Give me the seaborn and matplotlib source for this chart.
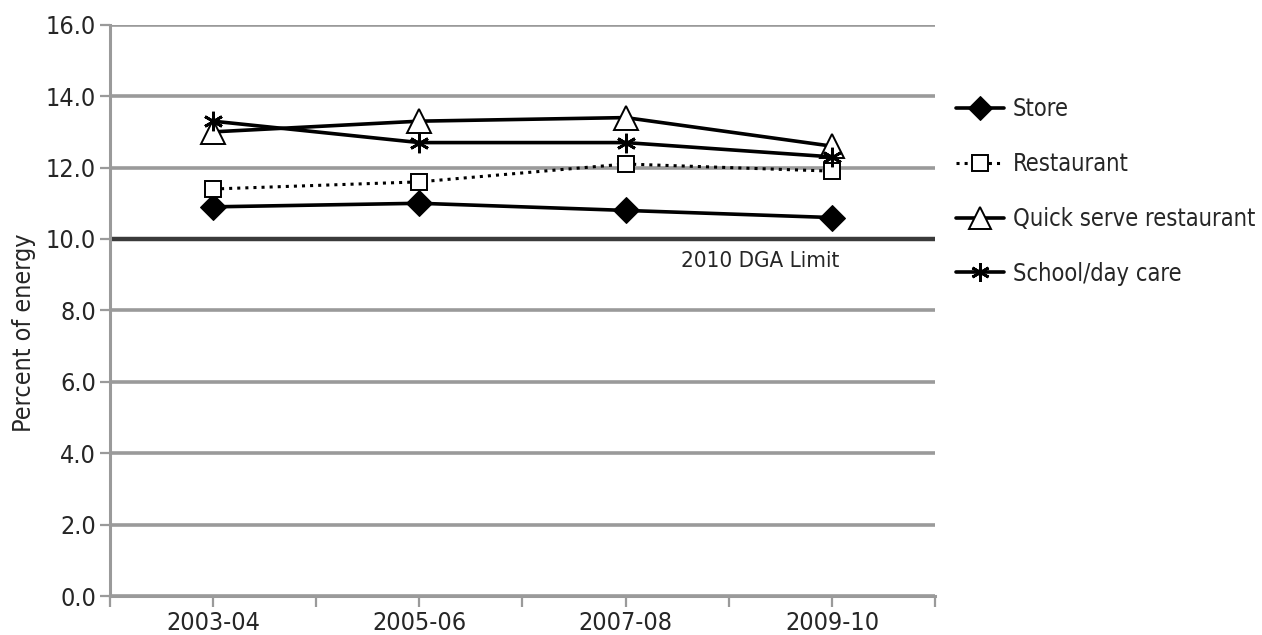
import matplotlib
matplotlib.use("Agg")
import matplotlib.pyplot as plt
import pandas as pd
import seaborn as sns

periods = ["2003-04", "2005-06", "2007-08", "2009-10"]
store = [10.9, 11.0, 10.8, 10.6]
restaurant = [11.4, 11.6, 12.1, 11.9]
quick_serve = [13.0, 13.3, 13.4, 12.6]
school = [13.3, 12.7, 12.7, 12.3]
y_ticks = [0, 2, 4, 6, 8, 10, 12, 14, 16]

sns.set_theme(style="white")
plt.rcParams["font.family"] = ["DejaVu Sans"]
plt.rcParams["font.stretch"] = "condensed"

df = pd.DataFrame({"period": periods, "Store": store, "Restaurant": restaurant,
                   "Quick serve restaurant": quick_serve, "School/day care": school})

fig = plt.figure(figsize=(12.62, 6.35), dpi=100)
ax = fig.add_axes([0.087, 0.0614, 0.654, 0.8996])

grid_col = "#9a9a9a"
for t in y_ticks:
    ax.axhline(t, color=grid_col, lw=2.6, zorder=0)
ax.axhline(10, color="#3a3a3a", lw=3.2, zorder=1)

sns.lineplot(data=df, x="period", y="Store", ax=ax, color="black", lw=2.6,
             marker="D", markersize=13, markerfacecolor="black", markeredgecolor="black",
             label="Store")
sns.lineplot(data=df, x="period", y="Restaurant", ax=ax, color="black", lw=2.2,
             linestyle=":", marker="s", markersize=12, markerfacecolor="white",
             markeredgecolor="black", markeredgewidth=1.4, label="Restaurant")
sns.lineplot(data=df, x="period", y="Quick serve restaurant", ax=ax, color="black", lw=2.6,
             marker="^", markersize=17, markerfacecolor="white", markeredgecolor="black",
             markeredgewidth=1.4, label="Quick serve restaurant")
sns.lineplot(data=df, x="period", y="School/day care", ax=ax, color="black", lw=2.6,
             marker=(6, 2, 0), markersize=14, markeredgewidth=2.0,
             markerfacecolor="black", markeredgecolor="black",
             label="School/day care")

ax.set_xlim(-0.5, 3.5)
ax.set_ylim(0, 16)
ax.set_yticks(y_ticks)
ax.set_yticklabels([f"{t:.1f}" for t in y_ticks], fontsize=18)
ax.set_xticks(range(len(periods)))
ax.set_xticklabels(periods, fontsize=18)
ax.set_xticks([-0.5, 0.5, 1.5, 2.5, 3.5], minor=True)
ax.tick_params(axis="x", which="both", direction="out", length=8, width=1.6,
               color=grid_col, bottom=True, pad=3)
ax.tick_params(axis="y", direction="out", length=7, width=1.6, color=grid_col, left=True, pad=3)
ax.set_xlabel("")
ax.set_ylabel("Percent of energy", fontsize=18)
ax.yaxis.set_label_coords(-0.09, 0.46)

for s in ["top", "right"]:
    ax.spines[s].set_visible(False)
for s in ["left", "bottom"]:
    ax.spines[s].set_color(grid_col)
    ax.spines[s].set_linewidth(2.2)

ax.text(2.65, 9.38, "2010 DGA Limit", fontsize=16, ha="center", va="center")

leg = ax.legend(loc="upper left", bbox_to_anchor=(1.0, 0.91), frameon=False,
                fontsize=17, handlelength=2.0, labelspacing=1.3, handletextpad=0.4,
                markerscale=0.95)

fig.savefig("out.png", dpi=100)
